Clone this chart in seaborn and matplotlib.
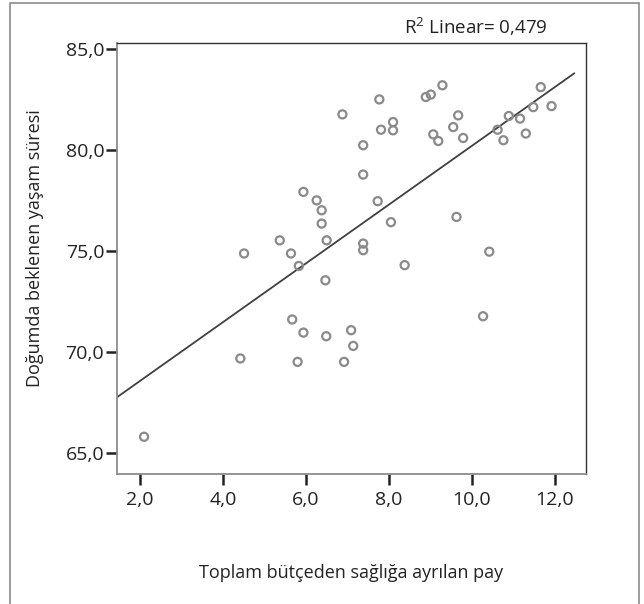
import matplotlib
matplotlib.use("Agg")
import matplotlib.pyplot as plt
import numpy as np
import pandas as pd
import seaborn as sns
from matplotlib.patches import Rectangle

# Toplam bütçeden sağlığa ayrılan pay (x) ve doğumda beklenen yaşam süresi (y)
saglik_payi = [6.88, 5.94, 6.26, 6.38, 6.38, 5.37, 6.50,
               7.38, 7.38, 7.77, 7.81, 8.10, 8.10, 8.89, 9.01, 9.29, 9.07, 9.19,
               9.55, 9.67, 9.79, 10.62, 10.76, 10.89, 11.16, 11.30, 11.48, 11.66,
               11.92, 7.73, 8.05, 9.63, 7.38, 7.38,
               4.51, 5.64, 5.83, 6.47, 5.67, 5.94, 6.49, 7.09, 7.14, 4.42, 5.80,
               6.92, 2.10,
               10.42, 8.38, 10.27]
yasam_suresi = [81.78, 77.94, 77.52, 77.03, 76.37, 75.54, 75.54,
                80.25, 78.80, 82.52, 81.02, 81.40, 80.99, 82.64, 82.76, 83.22, 80.79, 80.46,
                81.15, 81.73, 80.61, 81.02, 80.50, 81.70, 81.57, 80.83, 82.14, 83.13,
                82.19, 77.48, 76.44, 76.70, 75.38, 75.05,
                74.89, 74.89, 74.27, 73.56, 71.62, 70.97, 70.79, 71.09, 70.31, 69.69, 69.52,
                69.52, 65.81,
                74.98, 74.31, 71.78]

x_ticks = [2, 4, 6, 8, 10, 12]
y_ticks = [65, 70, 75, 80, 85]
r2_text = "R$^{2}$ Linear= 0,479"

df = pd.DataFrame({"x": saglik_payi, "y": yasam_suresi})

sns.set_style("white")
plt.rcParams["font.family"] = ["Open Sans", "DejaVu Sans"]
plt.rcParams["mathtext.fontset"] = "custom"
plt.rcParams["mathtext.rm"] = "Open Sans"
plt.rcParams["mathtext.default"] = "regular"

fig = plt.figure(figsize=(6.44, 6.04), dpi=100)
ax = fig.add_axes([0.1812, 0.2147, 0.9099 - 0.1812, 0.9283 - 0.2147])

sns.scatterplot(data=df, x="x", y="y", ax=ax, s=34, marker="o",
                facecolor="none", edgecolor="#8a8a8a", linewidth=1.6, zorder=3)

xmin, xmax = 1.44, 12.75
slope, intercept = np.polyfit(df["x"], df["y"], 1)
line_x = np.array([xmin, 12.47])
ax.plot(line_x, intercept + slope * line_x, color="#404040", lw=1.3, zorder=2)

ax.set_xlim(xmin, xmax)
ax.set_ylim(63.95, 85.3)
ax.set_xticks(x_ticks)
ax.set_xticklabels([f"{v:.1f}".replace(".", ",") for v in x_ticks])
ax.set_yticks(y_ticks)
ax.set_yticklabels([f"{v:.1f}".replace(".", ",") for v in y_ticks])
ax.tick_params(axis="both", which="major", bottom=True, left=True,
               direction="out", length=8, width=1.8,
               color="#222222", labelsize=14, labelcolor="#222222")
ax.tick_params(axis="x", pad=4)
ax.tick_params(axis="y", pad=1)

for side in ["left", "bottom"]:
    ax.spines[side].set_color("#8c8c8c")
    ax.spines[side].set_linewidth(1.3)
for side in ["top", "right"]:
    ax.spines[side].set_color("#333333")
    ax.spines[side].set_linewidth(1.0)

ax.set_xlabel("")
ax.set_ylabel("")
fig.text(351 / 644, 1 - 573 / 604, "Toplam bütçeden sağlığa ayrılan pay",
         ha="center", va="center", fontsize=13, color="#222222")
fig.text(35 / 644, 1 - 248 / 604, "Doğumda beklenen yaşam süresi",
         ha="center", va="center", rotation=90, fontsize=13, color="#222222")
fig.text(548 / 644, 1 - 34 / 604, r2_text, ha="right", va="baseline",
         fontsize=13.5, color="#222222")

fig.patches.append(Rectangle((10 / 644, -0.05), 629 / 644, 1 - 3 / 604 + 0.05,
                             transform=fig.transFigure, fill=False,
                             edgecolor="#8c8c8c", lw=1.2))

fig.savefig("out.png", dpi=100)
